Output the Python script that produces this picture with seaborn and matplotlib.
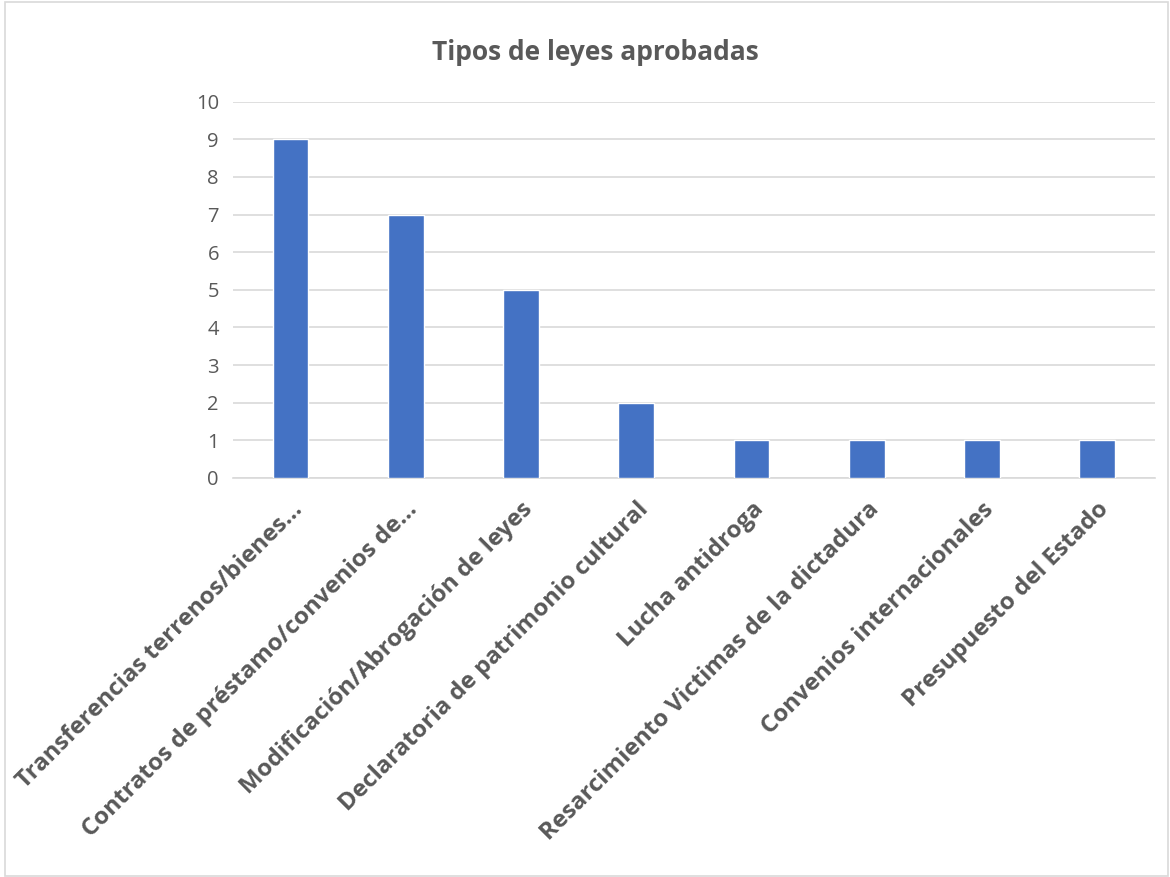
import matplotlib
matplotlib.use("Agg")
import matplotlib.pyplot as plt
import seaborn as sns
import pandas as pd
from matplotlib.patches import Rectangle

categories = [
    "Transferencias terrenos/bienes...",
    "Contratos de préstamo/convenios de...",
    "Modificación/Abrogación de leyes",
    "Declaratoria de patrimonio cultural",
    "Lucha antidroga",
    "Resarcimiento Victimas de la dictadura",
    "Convenios internacionales",
    "Presupuesto del Estado",
]
values = [9, 7, 5, 2, 1, 1, 1, 1]
yticks = list(range(0, 11))
title = "Tipos de leyes aprobadas"

sns.set_theme(style="white")
plt.rcParams['font.family'] = ['Open Sans', 'DejaVu Sans']

df = pd.DataFrame({"cat": categories, "val": values})

fig = plt.figure(figsize=(11.7, 8.77), dpi=100)
ax = fig.add_axes([0.199, 0.455, 0.788, 0.429])
sns.barplot(data=df, x="cat", y="val", color="#4472C4", width=0.31,
            saturation=1, ax=ax, zorder=3)

ax.set_ylim(0, 10)
ax.set_xlim(-0.5, len(categories) - 0.5)
ax.set_yticks(yticks)
ax.set_yticklabels([str(t) for t in yticks], fontsize=14.5, color="#595959")
ax.yaxis.grid(True, color="#D9D9D9", linewidth=1.2, zorder=0)
ax.set_axisbelow(True)
for s in ["top", "right", "left"]:
    ax.spines[s].set_visible(False)
ax.spines["bottom"].set_color("#D9D9D9")
ax.spines["bottom"].set_linewidth(1.2)
ax.tick_params(axis="both", length=0, pad=10)
ax.set_xlabel("")
ax.set_ylabel("")
ax.set_xticks(range(len(categories)))
ax.set_xticklabels(categories, rotation=45, ha="right", va="top",
                   rotation_mode="anchor", fontsize=17.3, fontweight="bold",
                   color="#595959")
ax.tick_params(axis="x", pad=14)

fig.text(0.509, 0.94, title, ha="center", va="center", fontsize=19,
         fontweight="bold", color="#595959")

fig.patches.append(Rectangle((0.004, 0.001), 0.994, 0.997, transform=fig.transFigure,
                             fill=False, edgecolor="#D9D9D9", linewidth=1.2))

fig.savefig("out.png", dpi=100)
